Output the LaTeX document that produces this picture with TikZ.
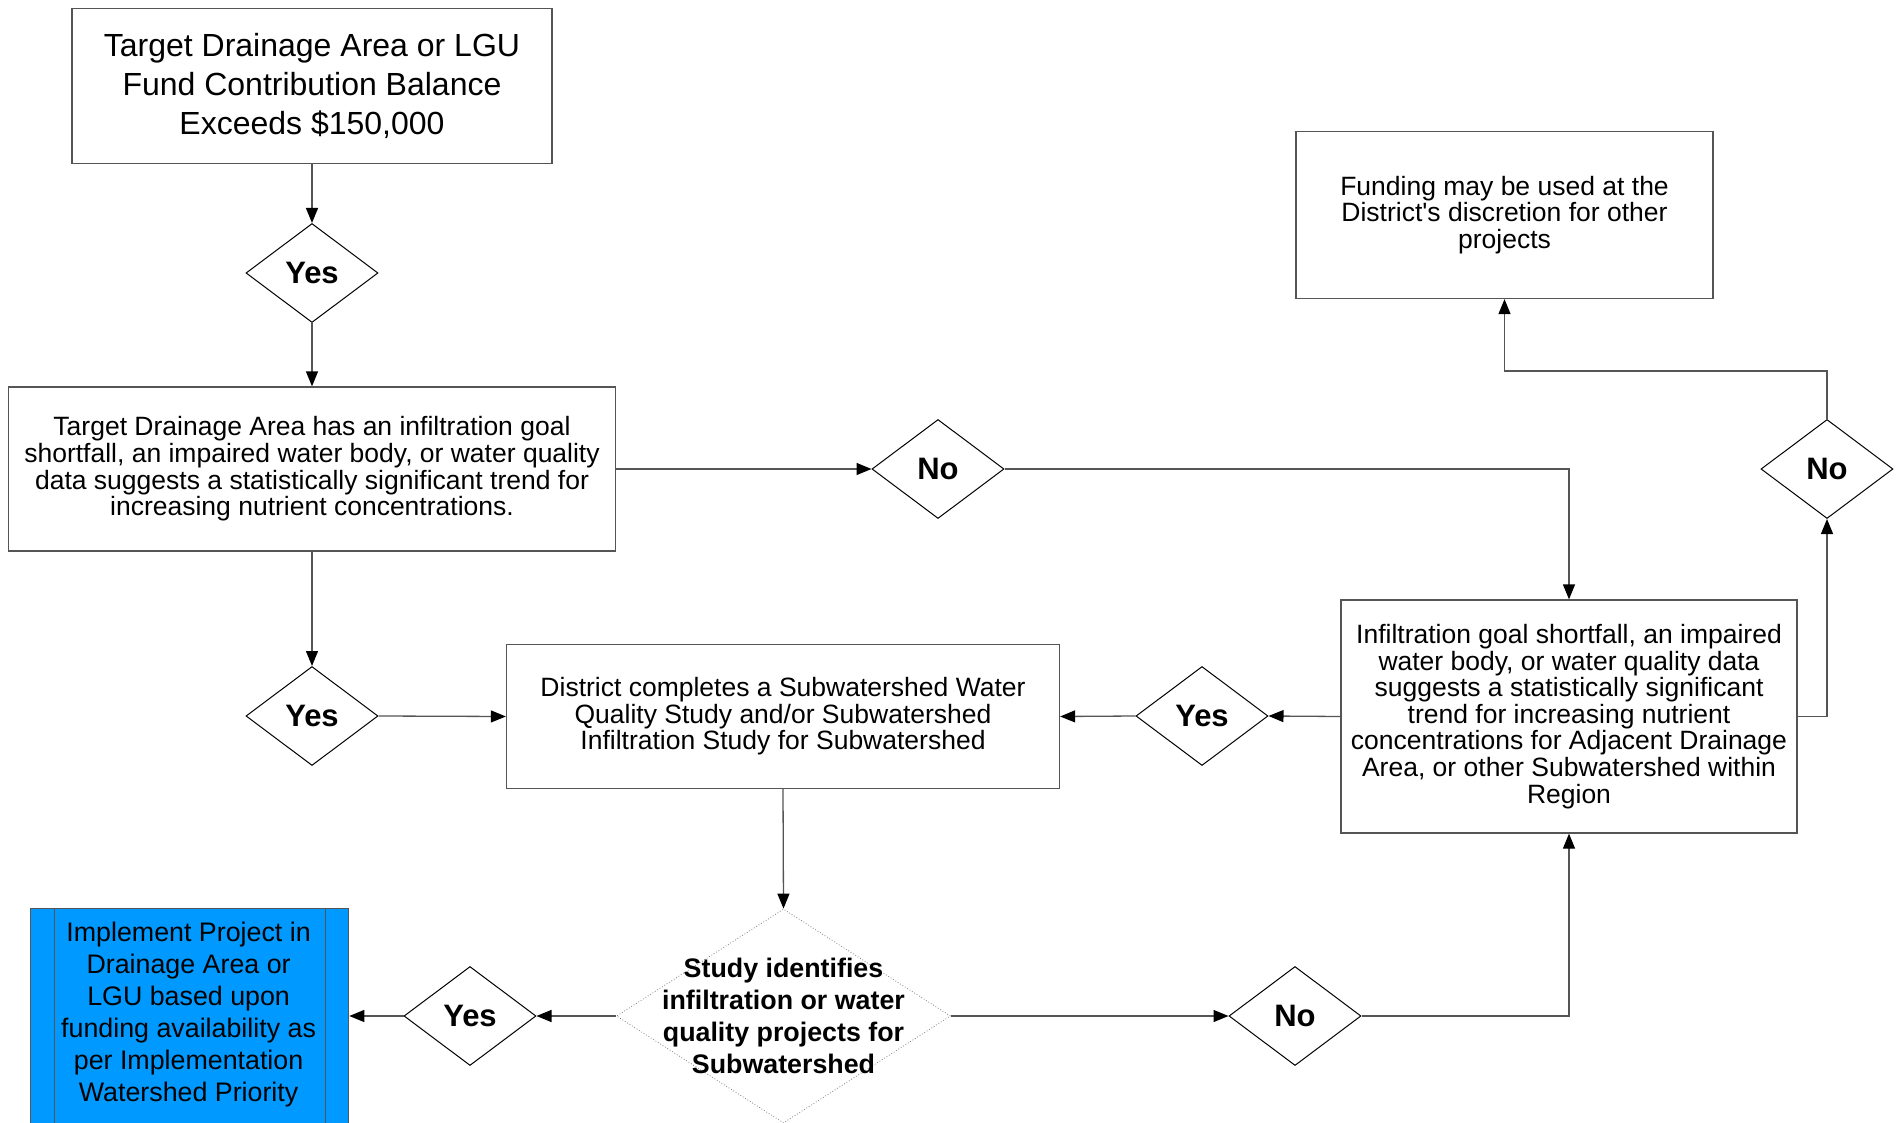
\documentclass[tikz,border=0pt]{standalone}
\usepackage{fontspec}
\setmainfont{Liberation Sans}
\newfontfamily\plainfont{Liberation Sans}[Ligatures=TeXOff]
\usetikzlibrary{shapes.geometric,arrows.meta}
\definecolor{linegray}{RGB}{85,85,85}
\definecolor{implblue}{RGB}{0,153,255}
\begin{document}
\begin{tikzpicture}[x=1pt,y=-1pt,
  box/.style={draw=linegray, line width=1.3pt, fill=white, align=center, inner sep=0pt,
    font=\fontsize{26.5}{26.6}\selectfont},
  dec/.style={diamond, draw=black, line width=1pt, inner sep=0pt, fill=white,
    minimum width=132pt, minimum height=99pt, font=\fontsize{31}{31}\selectfont\bfseries},
  conn/.style={draw=linegray, line width=1.3pt, -{Triangle[length=15pt,width=12pt,color=black]}}]
\useasboundingbox (0,0) rectangle (1896,1123);
% nodes
\node[box, minimum width=480pt, minimum height=155pt, font=\fontsize{32}{39}\selectfont] (b1) at (312,86)
  {Target Drainage Area or LGU\\Fund Contribution Balance\\Exceeds \$150,000};
\node[dec] (y1) at (312,273) {Yes};
\node[box, minimum width=607pt, minimum height=164pt] (b2) at (312,469)
  {Target Drainage Area has an infiltration goal\\shortfall, an impaired water body, or water quality\\data suggests a statistically significant trend for\\increasing nutrient concentrations.};
\node[dec] (n1) at (938,469) {No};
\node[dec] (y2) at (312,716) {Yes};
\node[box, minimum width=553pt, minimum height=144pt] (b3) at (783,716.5)
  {District completes a Subwatershed Water\\Quality Study and/or Subwatershed\\Infiltration Study for Subwatershed};
\node[dec] (y3) at (1202,716) {Yes};
\node[box, minimum width=456pt, minimum height=233pt] (b4) at (1569,716.5)
  {Infiltration goal shortfall, an impaired\\water body, or water quality data\\suggests a statistically significant\\trend for increasing nutrient\\concentrations for Adjacent Drainage\\Area, or other Subwatershed within\\Region};
\node[dec] (n2) at (1827,469) {No};
\node[box, minimum width=417pt, minimum height=167pt, font=\plainfont\fontsize{26.5}{26.6}\selectfont] (fund) at (1504.5,215)
  {Funding may be used at the\\District's discretion for other\\projects};
\node[diamond, draw=gray, dotted, line width=0.8pt, inner sep=0pt, minimum width=334pt, minimum height=214pt] (study) at (783.5,1016) {};
\node[align=center, inner sep=0pt, font=\fontsize{26.8}{32}\selectfont\bfseries] (studyt) at (study.center)
  {Study identifies\\infiltration or water\\quality projects for\\Subwatershed};
\node[dec] (y4) at (470,1016) {Yes};
\node[dec] (n3) at (1295,1016) {No};
\node[draw=linegray, line width=1.3pt, fill=implblue, inner sep=0pt, minimum width=318pt, minimum height=230pt, anchor=north west] (impl) at (30,908) {};
\draw[linegray, line width=1.3pt] ([xshift=24.4pt]impl.north west) -- ([xshift=24.4pt]impl.south west);
\draw[linegray, line width=1.3pt] ([xshift=-24pt]impl.north east) -- ([xshift=-24pt]impl.south east);
\node[align=center, inner sep=0pt, font=\fontsize{26.8}{32}\selectfont] (implt) at (188.6,1014.5)
  {Implement Project in\\Drainage Area or\\LGU based upon\\funding availability as\\per Implementation\\Watershed Priority};
\coordinate (fe) at (1504.5,371);
% connectors
\draw[conn] (b1.south) -- (y1.north);
\draw[conn] (y1.south) -- (b2.north);
\draw[conn] (b2.east) -- (n1.west);
\draw[conn] (n1.east) -| (b4.north);
\draw[conn] (b2.south) -- (y2.north);
\draw[conn] (y2.east) -- (b3.west);
\draw[conn] (b4.west) -- (y3.east);
\draw[conn] (y3.west) -- (b3.east);
\draw[conn] (b3.south) -- (study.north);
\draw[conn] (study.west) -- (y4.east);
\draw[conn] (y4.west) -- (y4.west -| impl.east);
\draw[conn] (study.east) -- (n3.west);
\draw[conn] (n3.east) -| (b4.south);
\draw[conn] (b4.east) -| (n2.south);
\draw[conn] (n2.north) |- (fe) -- (fund.south);
\end{tikzpicture}
\end{document}
